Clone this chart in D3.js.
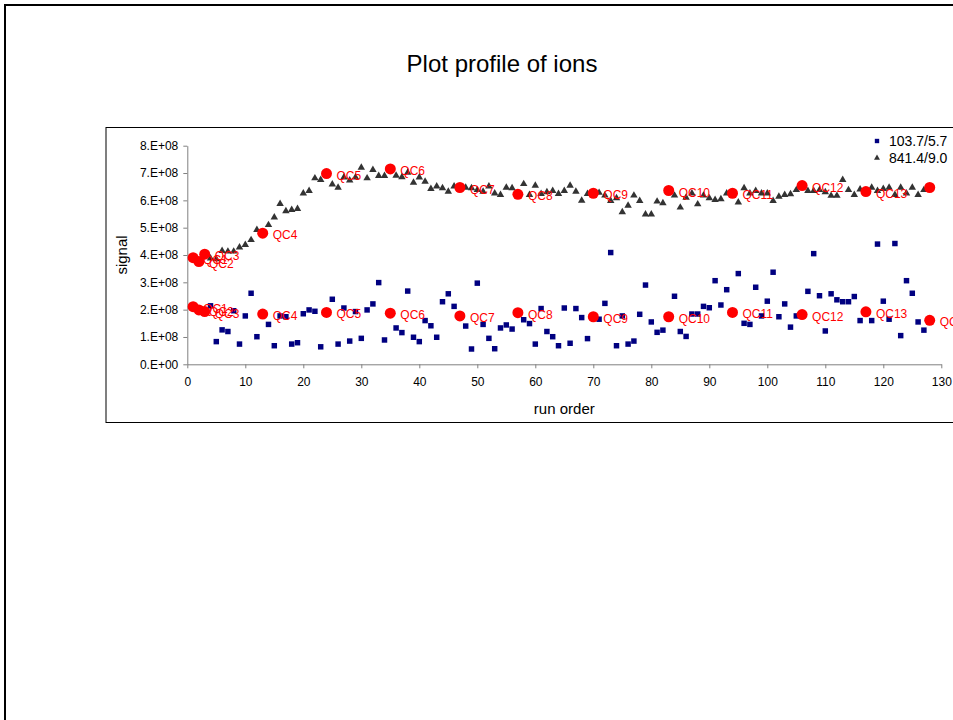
<!DOCTYPE html>
<html>
<head>
<meta charset="utf-8">
<script src="https://cdn.jsdelivr.net/npm/d3@7"></script>
<style>
  body { margin: 0; background: #fff; }
  svg { display: block; font-family: "Liberation Sans", Arial, sans-serif; }
  .axis path, .axis line { stroke: #808080; }
  .axis text { fill: #000; font-size: 12px; }
</style>
</head>
<body>
<div id="chart"></div>
<script>
const width = 953;
const height = 720;

// ion 103.7/5.7 (squares)
const runsA = [4,5,6,7,8,9,10,11,12,14,15,16,17,18,19,20,21,22,23,25,26,27,28,29,30,31,32,33,34,36,37,38,39,40,41,42,43,44,45,46,48,49,50,51,52,53,54,55,56,58,59,60,61,62,63,64,65,66,67,68,69,71,72,73,74,75,76,77,78,79,80,81,82,84,85,86,87,88,89,90,91,92,93,95,96,97,98,99,100,101,102,103,104,105,107,108,109,110,111,112,113,114,115,116,118,119,120,121,122,123,124,125,126,127];
const valuesA = [2.14,0.83,1.26,1.20,1.96,0.74,1.77,2.60,1.01,1.46,0.68,1.77,1.74,0.74,0.79,1.85,1.99,1.94,0.64,2.38,0.74,2.06,0.85,1.93,0.95,1.99,2.21,2.99,0.89,1.33,1.16,2.68,0.99,0.83,1.60,1.41,0.99,2.29,2.58,2.12,1.40,0.56,2.97,1.46,0.95,0.57,1.33,1.44,1.29,1.63,1.49,0.74,2.04,1.20,1.01,0.68,2.06,0.77,2.04,1.71,0.94,1.65,2.23,4.09,0.68,1.77,0.74,0.85,1.83,2.90,1.55,1.17,1.25,2.49,1.20,1.02,1.84,1.84,2.12,2.07,3.06,2.17,2.73,3.32,1.50,1.46,2.82,1.77,2.31,3.37,1.74,2.21,1.36,1.77,2.67,4.05,2.51,1.22,2.58,2.36,2.29,2.29,2.48,1.60,1.60,4.40,2.31,1.65,4.42,1.05,3.06,2.60,1.55,1.25];

// ion 841.4/9.0 (triangles)
const runsB = [4,5,6,7,8,9,10,11,12,14,15,16,17,18,19,20,21,22,23,25,26,27,28,29,30,31,32,33,34,36,37,38,39,40,41,42,43,44,45,46,48,49,50,51,52,53,54,55,56,58,59,60,61,62,63,64,65,66,67,68,69,71,72,73,74,75,76,77,78,79,80,81,82,84,85,86,87,88,89,90,91,92,93,95,96,97,98,99,100,101,102,103,104,105,107,108,109,110,111,112,113,114,115,116,118,119,120,121,122,123,124,125,126,127];
const valuesB = [3.88,3.85,4.15,4.13,4.13,4.28,4.37,4.55,4.92,5.10,5.38,5.87,5.61,5.65,5.69,6.26,6.35,6.81,6.75,6.59,6.47,6.84,6.73,6.84,7.20,6.81,7.12,6.90,6.90,6.91,6.85,7.02,6.65,6.84,6.69,6.42,6.51,6.45,6.32,6.51,6.47,6.45,6.38,6.32,6.51,6.26,6.20,6.47,6.45,6.60,6.20,6.54,6.24,6.30,6.35,6.24,6.35,6.54,6.32,5.99,6.24,6.28,6.18,5.98,6.08,5.57,5.81,6.18,5.98,5.49,5.49,5.96,5.90,6.18,5.74,6.10,6.26,5.86,6.18,6.08,6.02,6.05,6.26,5.93,6.45,6.26,6.35,6.26,6.26,5.98,6.14,6.20,6.23,6.38,6.35,6.35,6.38,6.30,6.17,6.17,6.75,6.38,6.20,6.40,6.47,6.35,6.42,6.47,6.20,6.47,6.26,6.47,6.20,6.38];

// QC injections
const qcRuns = [1,2,3,13,24,35,47,57,70,83,94,106,117,128];
const qcLabels = ["QC1","QC2","QC3","QC4","QC5","QC6","QC7","QC8","QC9","QC10","QC11","QC12","QC13","QC14"];
const qcValuesA = [2.11,1.99,1.93,1.84,1.90,1.87,1.77,1.89,1.74,1.74,1.90,1.82,1.92,1.61];
const qcValuesB = [3.90,3.76,4.03,4.80,6.98,7.15,6.47,6.22,6.26,6.36,6.26,6.54,6.32,6.47];

const seriesNames = ["103.7/5.7", "841.4/9.0"];
const xTicks = d3.range(0, 131, 10);
const yTicks = d3.range(0, 9e8, 1e8);

const svg = d3.select("#chart").append("svg")
  .attr("width", width)
  .attr("height", height);

// page frame
svg.append("rect")
  .attr("x", 5).attr("y", 5)
  .attr("width", 1000).attr("height", 800)
  .attr("fill", "none").attr("stroke", "#000").attr("stroke-width", 2);

// plot frame
svg.append("rect")
  .attr("x", 106).attr("y", 127.5)
  .attr("width", 900).attr("height", 295)
  .attr("fill", "none").attr("stroke", "#000").attr("stroke-width", 1);

svg.append("text")
  .attr("x", 502).attr("y", 72)
  .attr("text-anchor", "middle")
  .style("font-size", "24px")
  .text("Plot profile of ions");

const x = d3.scaleLinear().domain([0, 130]).range([187.3, 941.3]);
const y = d3.scaleLinear().domain([0, 8e8]).range([364.3, 145.7]);

const yFormat = d => (d === 0 ? "0" : (d / 1e8)) + ".E+0" + (d === 0 ? "0" : "8");

svg.append("g")
  .attr("class", "axis")
  .attr("transform", "translate(" + x(0) + ",0)")
  .call(d3.axisLeft(y).tickValues(yTicks).tickFormat(yFormat).tickSize(4).tickPadding(5).tickSizeOuter(0));

svg.append("g")
  .attr("class", "axis")
  .attr("transform", "translate(0," + y(0) + ")")
  .call(d3.axisBottom(x).tickValues(xTicks).tickFormat(d3.format("d")).tickSize(4).tickPadding(9).tickSizeOuter(0));

svg.append("text")
  .attr("transform", "translate(127," + (y(4e8)) + ") rotate(-90)")
  .attr("text-anchor", "middle")
  .style("font-size", "15px")
  .text("signal");

svg.append("text")
  .attr("x", x(65)).attr("y", 414)
  .attr("text-anchor", "middle")
  .style("font-size", "15px")
  .text("run order");

const dataA = runsA.map((r, i) => ({ run: r, v: valuesA[i] * 1e8 }));
const dataB = runsB.map((r, i) => ({ run: r, v: valuesB[i] * 1e8 }));
const qcA = qcRuns.map((r, i) => ({ run: r, v: qcValuesA[i] * 1e8, label: qcLabels[i] }));
const qcB = qcRuns.map((r, i) => ({ run: r, v: qcValuesB[i] * 1e8, label: qcLabels[i] }));

const square = d3.symbol().type(d3.symbolSquare).size(30);
const triangle = d3.symbol().type(d3.symbolTriangle).size(24);

svg.append("g").selectAll("path")
  .data(dataA)
  .enter().append("path")
  .attr("d", square)
  .attr("transform", d => "translate(" + x(d.run) + "," + y(d.v) + ")")
  .attr("fill", "#000080");

svg.append("g").selectAll("path")
  .data(dataB)
  .enter().append("path")
  .attr("d", triangle)
  .attr("transform", d => "translate(" + x(d.run) + "," + y(d.v) + ")")
  .attr("fill", "#333333");

[qcA, qcB].forEach((qc, k) => {
  svg.append("g").selectAll("circle")
    .data(qc)
    .enter().append("circle")
    .attr("cx", d => x(d.run))
    .attr("cy", d => y(d.v))
    .attr("r", 5.5)
    .attr("fill", "#ff0000");

  // upper QC14 label falls outside the picture in the original
  svg.append("g").selectAll("text")
    .data(k === 0 ? qc : qc.slice(0, 13))
    .enter().append("text")
    .attr("x", d => x(d.run) + 10)
    .attr("y", d => y(d.v) + 6)
    .attr("fill", "#ff0000")
    .style("font-size", "12px")
    .text(d => d.label);
});

// legend
const legend = svg.append("g").selectAll("g")
  .data(seriesNames)
  .enter().append("g")
  .attr("transform", (d, i) => "translate(877," + (141 + i * 17) + ")");

legend.append("path")
  .attr("d", (d, i) => (i === 0 ? square : triangle)())
  .attr("fill", (d, i) => (i === 0 ? "#000080" : "#333333"))
  .attr("transform", "scale(0.8)");

legend.append("text")
  .attr("x", 12).attr("y", 5)
  .style("font-size", "14px")
  .text(d => d);
</script>
</body>
</html>
